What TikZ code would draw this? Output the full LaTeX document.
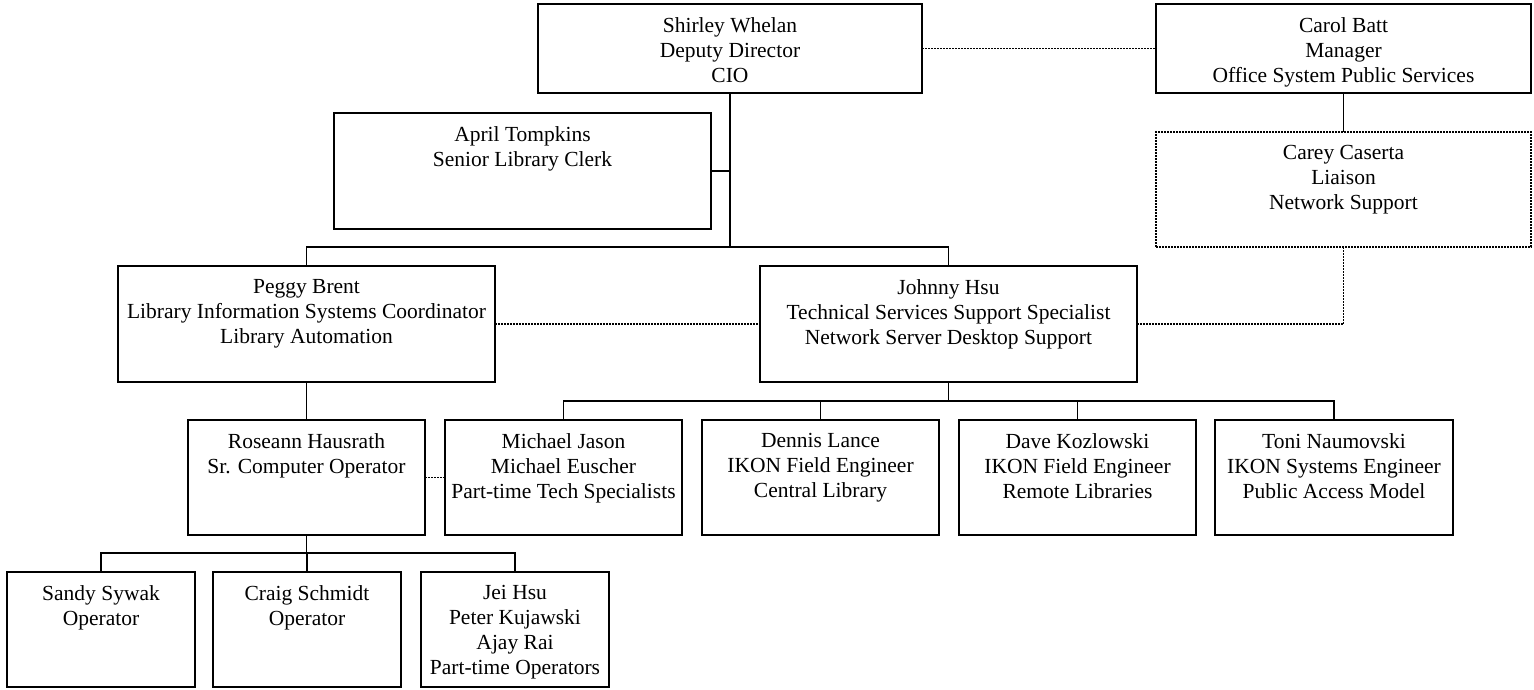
\documentclass[tikz,border=0pt]{standalone}
\usepackage{fontspec}
\setmainfont{Liberation Serif}
\usetikzlibrary{positioning}

\begin{document}
\begin{tikzpicture}[x=1pt, y=-1pt,
        post/.style={draw, line width=1.5pt, inner sep=0pt, outer sep=0pt, anchor=north west},
        who/.style={align=center, inner sep=0pt, font=\fontsize{21.5}{25}\selectfont},
        solid line/.style={line width=1.5pt},
        dots/.style={line width=1.1pt, dash pattern=on 2pt off 1pt}]
    \useasboundingbox (0,0) rectangle (1534,690);

    \node[post, minimum width=384pt, minimum height=89pt] (shirley) at (538,4) {};
    \node[post, minimum width=375pt, minimum height=89pt] (carol) at (1156,4) {};
    \node[post, minimum width=377pt, minimum height=116pt] (april) at (334,113) {};
    \node[post, dots, minimum width=375pt, minimum height=115pt] (carey) at (1156,132) {};
    \node[post, minimum width=377pt, minimum height=116pt] (peggy) at (118,266) {};
    \node[post, minimum width=377pt, minimum height=116pt] (johnny) at (760,266) {};
    \node[post, minimum width=237pt, minimum height=115pt] (roseann) at (188,420) {};
    \node[post, minimum width=237pt, minimum height=115pt] (michael) at (445,420) {};
    \node[post, minimum width=237pt, minimum height=115pt] (dennis) at (702,420) {};
    \node[post, minimum width=237pt, minimum height=115pt] (dave) at (959,420) {};
    \node[post, minimum width=238pt, minimum height=115pt] (toni) at (1215,420) {};
    \node[post, minimum width=188pt, minimum height=115pt] (sandy) at (7,572) {};
    \node[post, minimum width=188pt, minimum height=115pt] (craig) at (213,572) {};
    \node[post, minimum width=188pt, minimum height=115pt] (jei) at (421,572) {};

    \node[who, below=13pt of shirley.north] (shirley-t) {Shirley Whelan\\Deputy Director\\CIO};
    \node[who, below=13pt of carol.north] (carol-t) {Carol Batt\\Manager\\Office System Public Services};
    \node[who, below=13pt of april.north] (april-t) {April Tompkins\\Senior Library Clerk};
    \node[who, below=13pt of carey.north] (carey-t) {Carey Caserta\\Liaison\\Network Support};
    \node[who, below=13pt of peggy.north] (peggy-t) {Peggy Brent\\Library Information Systems Coordinator\\Library Automation};
    \node[who, below=13pt of johnny.north] (johnny-t) {Johnny Hsu\\Technical Services Support Specialist\\Network Server Desktop Support};
    \node[who, below=13pt of roseann.north] (roseann-t) {Roseann Hausrath\\Sr. Computer Operator};
    \node[who, below=13pt of michael.north] (michael-t) {Michael Jason\\Michael Euscher\\Part-time Tech Specialists};
    \node[who, below=13pt of dennis.north] (dennis-t) {Dennis Lance\\IKON Field Engineer\\Central Library};
    \node[who, below=13pt of dave.north] (dave-t) {Dave Kozlowski\\IKON Field Engineer\\Remote Libraries};
    \node[who, below=13pt of toni.north] (toni-t) {Toni Naumovski\\IKON Systems Engineer\\Public Access Model};
    \node[who, below=13pt of sandy.north] (sandy-t) {Sandy Sywak\\Operator};
    \node[who, below=13pt of craig.north] (craig-t) {Craig Schmidt\\Operator};
    \node[who, below=13pt of jei.north] (jei-t) {Jei Hsu\\Peter Kujawski\\Ajay Rai\\Part-time Operators};

    \coordinate (topbus) at (730,247);
    \draw[solid line] (shirley.south) -- (topbus);
    \draw[solid line] (april.east) -- (april.east -| topbus);
    \draw[solid line] (peggy.north) |- (topbus) -| (johnny.north);
    \draw[solid line] (carol.south) -- (carey.north);
    \draw[solid line] (peggy.south) -- (roseann.north);
    \foreach \p in {michael,dennis,dave,toni}
        \draw[solid line] (johnny.south) -- ++(0,19) -| (\p.north);
    \foreach \p in {sandy,craig,jei}
        \draw[solid line] (roseann.south) -- ++(0,18) -| (\p.north);

    \draw[dots] (shirley.east) -- (carol.west);
    \draw[dots] (peggy.east) -- (johnny.west);
    \draw[dots] (carey.south) |- (johnny.east);
    \draw[dots] (roseann.east) -- (michael.west);
\end{tikzpicture}
\end{document}
